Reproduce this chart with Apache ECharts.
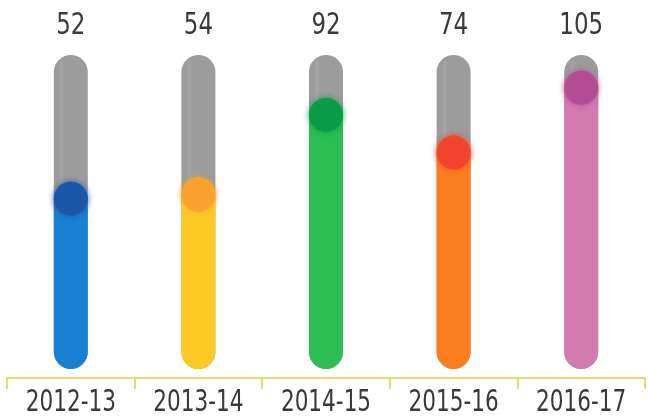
<!DOCTYPE html>
<html>
<head>
<meta charset="utf-8">
<script src="https://cdn.jsdelivr.net/npm/echarts@6/dist/echarts.min.js"></script>
<style>
html,body{margin:0;padding:0;background:#fff;}
#chart{width:648px;height:419px;}
</style>
</head>
<body>
<div id="chart"></div>
<script>
const categories = ['2012-13', '2013-14', '2014-15', '2015-16', '2016-17'];
const values = [52, 54, 92, 74, 105];
const fillColors = ['#1a80d4', '#fcc927', '#2dbd52', '#fb7e1e', '#d37bae'];
const bulbColors = ['#1d55a6', '#f9a02f', '#0a9a48', '#f2442e', '#b24b94'];

const Y_MIN = -37.5, Y_MAX = 112.5;
const FONT = "'DejaVu Sans Condensed', 'DejaVu Sans', sans-serif";

const chart = echarts.init(document.getElementById('chart'), null, {renderer: 'canvas'});

chart.setOption({
  animation: false,
  grid: {left: 7, right: 3, top: 55, bottom: 50},
  xAxis: {
    type: 'category',
    data: categories,
    offset: 9,
    axisLine: {show: true, onZero: false, lineStyle: {color: '#ead86e', width: 2}},
    axisTick: {show: true, length: 11, lineStyle: {color: '#ead86e', width: 2}},
    axisLabel: {show: false}
  },
  yAxis: {
    type: 'value', min: Y_MIN, max: Y_MAX, show: false,
    splitLine: {show: false}
  },
  series: [{
    type: 'custom',
    data: values.map((v, i) => [i, v]),
    renderItem: function (params, api) {
      const i = api.value(0);
      const v = api.value(1);
      const top = api.coord([i, Y_MAX]);
      const base = api.coord([i, Y_MIN]);
      const lvl = api.coord([i, v]);
      const w = 34, r = 17;
      const x0 = top[0] - w / 2;
      return {
        type: 'group',
        children: [
          {type: 'rect', shape: {x: x0, y: top[1], width: w, height: base[1] - top[1], r: r},
           style: {fill: '#9c9c9c'}},
          {type: 'rect', shape: {x: x0 + 6, y: top[1] + 6, width: 4, height: base[1] - top[1] - 12, r: 2},
           style: {fill: 'rgba(255,255,255,0.08)'}},
          {type: 'rect', shape: {x: x0, y: lvl[1], width: w, height: base[1] - lvl[1], r: r},
           style: {fill: fillColors[i]}},
          {type: 'circle', shape: {cx: lvl[0], cy: lvl[1] + r, r: r},
           style: {fill: bulbColors[i], opacity: 0.9, shadowBlur: 6, shadowColor: bulbColors[i]}},
          {type: 'text', x: top[0], y: top[1] - 29, scaleX: 0.85,
           style: {text: String(v), fill: '#3a3a3a', font: '30px ' + FONT, align: 'center', verticalAlign: 'middle'}},
          {type: 'text', x: top[0], y: base[1] + 34, scaleX: 0.8,
           style: {text: categories[i], fill: '#3a3a3a', font: '30px ' + FONT, align: 'center', verticalAlign: 'middle'}}
        ]
      };
    }
  }]
});
</script>
</body>
</html>
